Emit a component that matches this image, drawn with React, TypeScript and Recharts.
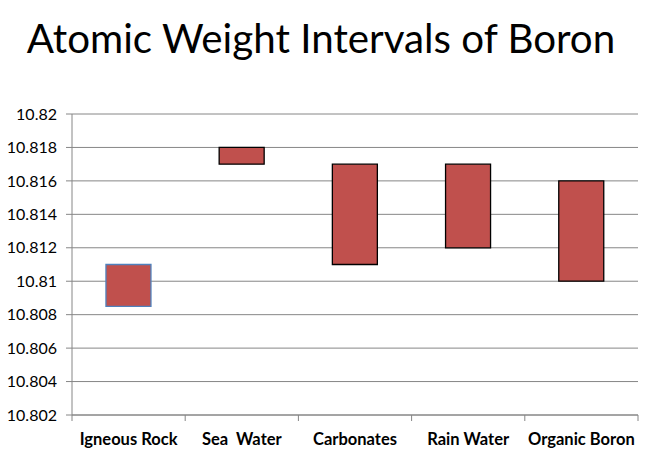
import React from "react";
import { BarChart, Bar, XAxis, YAxis, CartesianGrid, Cell } from "recharts";

const categories = ["Igneous Rock", "Sea\u00a0 Water", "Carbonates", "Rain Water", "Organic Boron"];
const lowValues = [10.8085, 10.817, 10.811, 10.812, 10.81];
const highValues = [10.811, 10.818, 10.817, 10.817, 10.816];
const yTicks = [10.802, 10.804, 10.806, 10.808, 10.81, 10.812, 10.814, 10.816, 10.818, 10.82];
const borderColors = ["#4F81BD", "#000000", "#000000", "#000000", "#000000"];

const data = categories.map((name, i) => ({ name, range: [lowValues[i], highValues[i]] }));

const FONT = "Lato, 'Open Sans', sans-serif";
const AXIS = "#868686";

const CategoryTick = (props: any) => {
  const { x, y, payload, index, visibleTicksCount } = props;
  const half = payload && payload.offset ? payload.offset : 0;
  const isLast = index === (visibleTicksCount ?? categories.length) - 1;
  return (
    <g>
      <line x1={x - half} x2={x - half} y1={y} y2={y + 6} stroke={AXIS} />
      {isLast && <line x1={x + half} x2={x + half} y1={y} y2={y + 6} stroke={AXIS} />}
      <text x={x} y={y + 18} dy="0.71em" textAnchor="middle" fontFamily={FONT} fontSize={16.5} fontWeight={700} fill="#000">
        {payload.value}
      </text>
    </g>
  );
};

export default function App() {
  return (
    <div style={{ position: "absolute", left: 0, top: 0, width: 659, height: 469, background: "#fff" }}>
      <svg style={{ position: "absolute", left: 0, top: 0 }} width={659} height={80}>
        <text x={321} y={53} textAnchor="middle" fontFamily={FONT} fontSize={40.3} fill="#000">
          Atomic Weight Intervals of Boron
        </text>
      </svg>
      <div style={{ position: "absolute", left: 0, top: 0 }}>
        <BarChart width={659} height={469} data={data} margin={{ top: 114, right: 21, bottom: 14, left: 0 }} barCategoryGap="30%">
          <CartesianGrid vertical={false} stroke={AXIS} strokeWidth={1} />
          <XAxis
            dataKey="name"
            axisLine={{ stroke: AXIS }}
            tickLine={false}
            tickSize={0}
            tickMargin={0}
            height={40}
            tick={CategoryTick}
            interval={0}
          />
          <YAxis
            domain={[10.802, 10.82]}
            ticks={yTicks}
            width={72}
            tickSize={6}
            tickMargin={9}
            stroke={AXIS}
            axisLine={{ stroke: AXIS }}
            tickLine={{ stroke: AXIS }}
            tick={{ fontFamily: FONT, fontSize: 16, fill: "#000" }}
            allowDataOverflow
          />
          <Bar dataKey="range" isAnimationActive={false} fill="#C0504D">
            {data.map((d, i) => (
              <Cell key={d.name} fill="#C0504D" stroke={borderColors[i]} strokeWidth={1.3} />
            ))}
          </Bar>
        </BarChart>
      </div>
    </div>
  );
}
